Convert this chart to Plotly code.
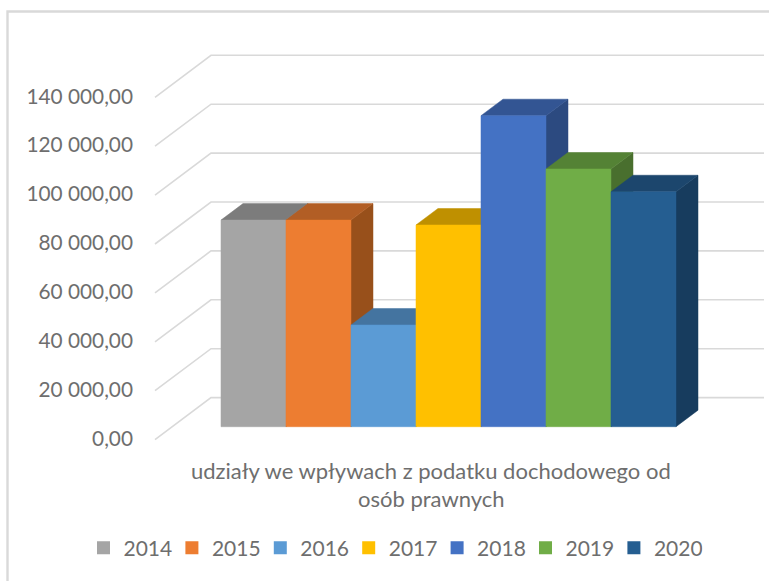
import plotly.graph_objects as go

years = ["2014", "2015", "2016", "2017", "2018", "2019", "2020"]
values = [84500, 84500, 41600, 82500, 127200, 105400, 96100]
front_colors = ["#a5a5a5", "#ed7d31", "#5b9bd5", "#ffc000", "#4472c4", "#70ad47", "#255e91"]
top_colors = ["#7c7c7c", "#b25e25", "#4474a0", "#bf9000", "#335593", "#548235", "#1c466d"]
side_colors = ["#6a6a6a", "#98501b", "#3a638a", "#a37b00", "#2c4a80", "#496f2e", "#173c5e"]
tick_values = [0, 20000, 40000, 60000, 80000, 100000, 120000, 140000]
tick_labels = ["0,00", "20 000,00", "40 000,00", "60 000,00", "80 000,00",
               "100 000,00", "120 000,00", "140 000,00"]
category_lines = ["udziały we wpływach z podatku dochodowego od", "osób prawnych"]

W, H = 769, 581
PAD = 4            # inset of the plotting area on every side, px
FONT = "Lato, Carlito, Calibri, sans-serif"
TEXT = "#6e6e6e"
GRID = "#d9d9d9"

# Pixel scale of the oblique projection
PX_PER_CAT = 65.0
PX_PER_VALUE = 48.9 / 20000
ORIGIN_X, ORIGIN_Y = 203.8, 439.6     # category 0 / value 0 on the front edge of the floor
FLOOR_DX, FLOOR_DY = 56.0, 42.0       # shift from front to back of the floor
BAR_D0, BAR_D1 = 0.307, 0.70          # bar depth extent, as fraction of the floor
dx_cat = FLOOR_DX / PX_PER_CAT
dy_val = FLOOR_DY / PX_PER_VALUE
plot_w = W - 2 * PAD
plot_h = H - 2 * PAD


def project(cat, value, depth):
    return cat + depth * dx_cat, value + depth * dy_val


def poly(points):
    xs, ys = zip(*[project(*p) for p in points])
    return list(xs) + [xs[0]], list(ys) + [ys[0]]


def px_x(px):
    return (px - PAD) / plot_w


def px_y(px):
    return 1 - (px - PAD) / plot_h


fig = go.Figure()

x_left = -(ORIGIN_X - PAD) / PX_PER_CAT
x_right = (W - PAD - ORIGIN_X) / PX_PER_CAT
y_top = (ORIGIN_Y - PAD) / PX_PER_VALUE
y_bottom = (ORIGIN_Y - (H - PAD)) / PX_PER_VALUE

# Grid: left wall diagonal + back wall line per tick
floor_left = (155 - ORIGIN_X) / PX_PER_CAT
floor_right = floor_left + (764 - 155 - FLOOR_DX) / PX_PER_CAT
for v in tick_values:
    xs = [project(floor_left, v, 0)[0], project(floor_left, v, 1)[0], project(floor_right, v, 1)[0]]
    ys = [project(floor_left, v, 0)[1], project(floor_left, v, 1)[1], project(floor_right, v, 1)[1]]
    fig.add_trace(go.Scatter(x=xs, y=ys, mode="lines", yaxis="y2", showlegend=False,
                             line=dict(color=GRID, width=1.6), hoverinfo="skip"))

# Bars, painted from left to right
for i, (year, val) in enumerate(zip(years, values)):
    l, r = i, i + 1
    faces = [
        ([(r, 0, BAR_D0), (r, 0, BAR_D1), (r, val, BAR_D1), (r, val, BAR_D0)], side_colors[i]),
        ([(l, val, BAR_D0), (r, val, BAR_D0), (r, val, BAR_D1), (l, val, BAR_D1)], top_colors[i]),
        ([(l, 0, BAR_D0), (r, 0, BAR_D0), (r, val, BAR_D0), (l, val, BAR_D0)], front_colors[i]),
    ]
    for pts, col in faces:
        xs, ys = poly(pts)
        fig.add_trace(go.Scatter(x=xs, y=ys, mode="lines", fill="toself", fillcolor=col, yaxis="y2",
                                 line=dict(color=col, width=0.5), showlegend=False,
                                 name=year, hoverinfo="name"))

# Legend keys
for year, col in zip(years, front_colors):
    fig.add_trace(go.Scatter(x=[None], y=[None], mode="markers", name=year, yaxis="y2",
                             marker=dict(symbol="square", size=13, color=col)))

# Holder for the labelled axis
fig.add_trace(go.Scatter(x=[0], y=[0], mode="markers", marker=dict(opacity=0), yaxis="y",
                         showlegend=False, hoverinfo="skip"))

label_shift = 1.0
fig.update_layout(
    width=W, height=H,
    margin=dict(l=PAD, r=PAD, t=PAD, b=PAD, pad=0),
    paper_bgcolor="white", plot_bgcolor="rgba(0,0,0,0)",
    font=dict(family=FONT, color=TEXT, size=20),
    xaxis=dict(range=[x_left, x_right], visible=False, domain=[0, 1], fixedrange=True),
    yaxis=dict(range=[y_bottom, y_top - label_shift / PX_PER_VALUE], domain=[label_shift / plot_h, 1],
               tickmode="array", tickvals=tick_values, ticktext=tick_labels,
               showgrid=False, zeroline=False, showline=False, ticks="",
               anchor="free", position=px_x(133), side="left", automargin=False,
               tickfont=dict(family=FONT, color=TEXT, size=20.8)),
    yaxis2=dict(range=[y_bottom, y_top], domain=[0, 1], anchor="x", visible=False),
    showlegend=True,
    legend=dict(orientation="h", x=px_x(393), xanchor="center", y=px_y(548), yanchor="middle",
                font=dict(family=FONT, size=21, color=TEXT), entrywidth=43.4, entrywidthmode="pixels",
                itemclick=False, itemdoubleclick=False, traceorder="normal",
                bgcolor="rgba(0,0,0,0)"),
    shapes=[dict(type="rect", xref="paper", yref="paper", x0=px_x(7.5), x1=px_x(W + 10),
                 y0=px_y(H + 10), y1=px_y(11.5), line=dict(color=GRID, width=2.4))],
    annotations=[
        dict(text=category_lines[0], xref="paper", yref="paper", x=px_x(431),
             y=px_y(470.5), showarrow=False, xanchor="center", yanchor="middle",
             font=dict(family=FONT, size=22, color=TEXT)),
        dict(text=category_lines[1], xref="paper", yref="paper", x=px_x(431),
             y=px_y(498.5), showarrow=False, xanchor="center", yanchor="middle",
             font=dict(family=FONT, size=22, color=TEXT)),
    ],
)
fig.write_html("out.html", config=dict(displayModeBar=False),
               post_script="document.body.style.margin='0';document.documentElement.style.overflow='hidden';")
